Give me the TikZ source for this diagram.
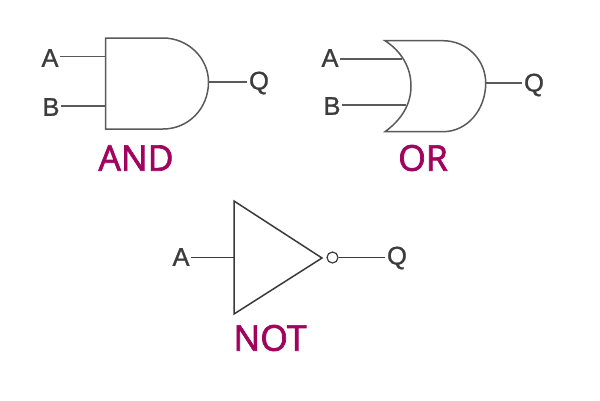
\documentclass[tikz,border=0pt]{standalone}
\usepackage{fontspec}
\setmainfont[BoldFont={Liberation Sans},BoldFeatures={FakeBold=1}]{Liberation Sans}
\newfontfamily\labelfont[BoldFont={Open Sans},BoldFeatures={FakeBold=2}]{Open Sans}
\definecolor{gatelabel}{HTML}{A1045F}
\definecolor{wiregray}{HTML}{5A5A5A}
\definecolor{wiredark}{HTML}{3A3A3A}
\definecolor{pinink}{HTML}{3C3C3C}
\tikzset{
  gateline/.style={draw=wiregray,line width=1.5pt,line join=miter,fill=white},
  wire/.style={draw=wiregray,line width=1.5pt},
  darkgate/.style={draw=wiredark,line width=1.5pt,line join=miter,fill=white},
  darkwire/.style={draw=wiredark,line width=1.4pt},
  pin/.style={font=\bfseries\fontsize{25.5}{26}\selectfont,text=pinink,inner sep=1.5pt},
  gatename/.style={font=\labelfont\bfseries\fontsize{35.5}{36}\selectfont,text=gatelabel,inner sep=0pt}
}
\begin{document}
\begin{tikzpicture}[x=1pt,y=-1pt]
\useasboundingbox[fill=white] (0,0) rectangle (600,400);
% AND
\coordinate (andA) at (105.5,56.7);
\coordinate (andB) at (105.5,106);
\coordinate (andQ) at (208.5,82);
\node[pin] (a1) at (50,58) {A};
\node[pin] (b1) at (51,107) {B};
\node[pin] (q1) at (259,83) {Q};
\draw[wire] (a1.east |- andA) -- (andA);
\draw[wire] (b1.east |- andB) -- (andB);
\draw[wire] (andQ) -- (q1.west |- andQ);
\draw[gateline] (105.5,38) -- (163,38) .. controls (188,38) and (208.5,58) .. (andQ)
  .. controls (208.5,109) and (188,129) .. (163,129) -- (105.5,129) -- cycle;
\node[gatename] (andname) at (136,158) {AND};
% OR
\coordinate (orA) at (402,59);
\coordinate (orB) at (406,105);
\coordinate (orQ) at (485.7,83);
\node[pin] (a2) at (330,58) {A};
\node[pin] (b2) at (332,106) {B};
\node[pin] (q2) at (534,85) {Q};
\draw[wire] (a2.east |- orA) -- (orA);
\draw[wire] (b2.east |- orB) -- (orB);
\draw[wire] (orQ) -- (q2.west |- orQ);
\draw[gateline] (385,40.7) -- (443,40.7) .. controls (467,40.7) and (485.7,60) .. (orQ)
  .. controls (485.7,110) and (467,131.7) .. (443,131.7) -- (385,131.7)
  .. controls (401,120) and (411,105) .. (411,86)
  .. controls (411,67) and (401,51) .. (385,40.7) -- cycle;
\node[gatename] (orname) at (423,158) {OR};
% NOT
\coordinate (notA) at (234,257.5);
\node[pin] (a3) at (181,257) {A};
\node[pin] (q3) at (397,258) {Q};
\draw[darkwire] (a3.east |- notA) -- (notA);
\draw[darkgate] (234,201) -- (322,258) -- (234,314) -- cycle;
\node[circle,draw=wiredark,line width=1.2pt,fill=white,minimum size=11pt,inner sep=0pt] (bub) at (332.5,257.5) {};
\draw[darkwire] (bub.east) -- (q3.west |- bub.east);
\node[gatename] (notname) at (270,338) {NOT};
\end{tikzpicture}
\end{document}
